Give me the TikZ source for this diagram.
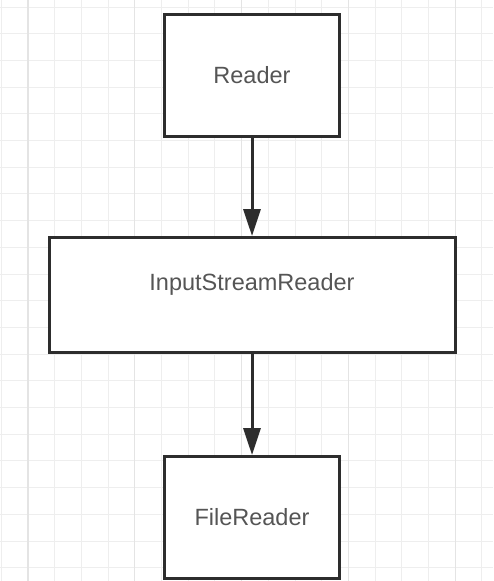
\documentclass[tikz,border=0pt]{standalone}
\usepackage{fontspec}
\setmainfont{Liberation Sans}
\usetikzlibrary{arrows.meta,positioning}
\definecolor{boxline}{RGB}{45,45,45}
\definecolor{labeltext}{RGB}{85,85,85}
\definecolor{gridminor}{RGB}{238,238,238}
\definecolor{gridmajor}{RGB}{228,228,228}

\begin{document}
\begin{tikzpicture}[
    x=1pt, y=-1pt,
    box/.style={rectangle,draw=boxline,fill=white,line width=3pt,
      minimum width=175pt,minimum height=122pt,
      font=\fontsize{23.5}{28}\selectfont,text=labeltext},
    widebox/.style={box,minimum width=406pt,minimum height=115pt,text depth=27pt},
    arrow/.style={-{Triangle[length=27pt,width=17pt]},line width=3pt,draw=boxline},
    gridline/.style={draw=gridminor,line width=1pt},
    gridbold/.style={draw=gridmajor,line width=1.2pt}
  ]
    \useasboundingbox[fill=white] (0,0) rectangle (493,581);

    % background grid
    \foreach \i in {0,...,18} {
      \draw[gridline] (1.3+26.7*\i,0) -- (1.3+26.7*\i,581);
    }
    \foreach \j in {0,...,21} {
      \draw[gridline] (0,7+26.7*\j) -- (493,7+26.7*\j);
    }
    \foreach \i in {0,...,4} {
      \draw[gridbold] (28+106.8*\i,0) -- (28+106.8*\i,581);
    }

    \node[box] (reader) at (252,75.5) {Reader};
    \node[widebox,below=98pt of reader] (isr) {InputStreamReader};
    \node[box,below=101pt of isr] (file) {FileReader};

    \draw[arrow] (reader) -- (isr);
    \draw[arrow] (isr) -- (file);
\end{tikzpicture}
\end{document}
